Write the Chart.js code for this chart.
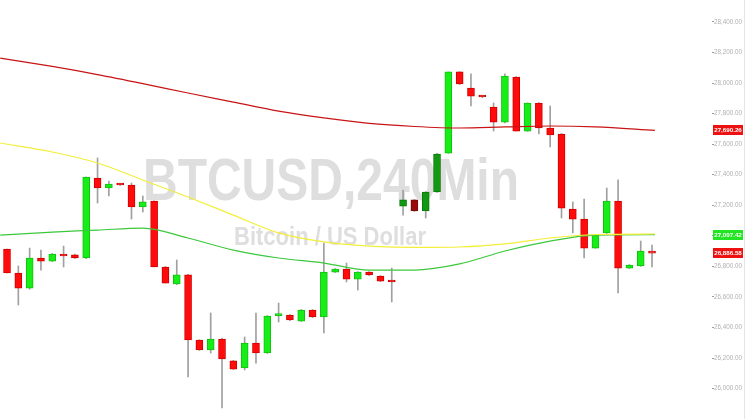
<!DOCTYPE html>
<html>
<head>
<meta charset="utf-8">
<title>BTCUSD,240Min</title>
<script src="https://cdn.jsdelivr.net/npm/chart.js@4.4.0/dist/chart.umd.min.js"></script>
<style>
  html, body { margin: 0; padding: 0; background: #fff; }
  canvas { display: block; }
</style>
</head>
<body>
<canvas id="chart" width="745" height="419"></canvas>
<script>
// ── DATA ──
const opens  = [26914, 26757, 26658, 26855, 26835, 26881, 26875, 26855, 27379, 27313, 27339, 27333, 27189, 27228, 26796, 26685, 26744, 26318, 26253, 26325,
                26181, 26135, 26298, 26233, 26478, 26482, 26442, 26514, 26469, 26763, 26783, 26717, 26763, 26737, 26711, 27195, 27235, 27163, 27287, 27542,
                28073, 27968, 27915, 27843, 27745, 28040, 27686, 27870, 27706, 27667, 27176, 27110, 26920, 27019, 27228, 26789, 26803, 26895];
const highs  = [26914, 26803, 26920, 26907, 26885, 26933, 26880, 27385, 27510, 27359, 27342, 27346, 27261, 27230, 26800, 26842, 26748, 26320, 26495, 26330,
                26185, 26338, 26495, 26478, 26560, 26485, 26518, 26518, 26953, 26786, 26822, 26766, 26766, 26740, 26789, 27300, 27238, 27290, 27540, 28073,
                28075, 28060, 27917, 27870, 28060, 28043, 27870, 27873, 27850, 27670, 27222, 27241, 27008, 27313, 27366, 26812, 26966, 26940];
const lows   = [26757, 26547, 26650, 26776, 26832, 26796, 26850, 26850, 27215, 27261, 27330, 27110, 27156, 26796, 26691, 26680, 26076, 26250, 26233, 25873,
                26125, 26122, 26167, 26230, 26436, 26445, 26440, 26465, 26364, 26760, 26698, 26645, 26740, 26700, 26567, 27136, 27160, 27117, 27285, 27540,
                27990, 27850, 27905, 27686, 27740, 27686, 27684, 27667, 27582, 27117, 27019, 26855, 26918, 27015, 26626, 26786, 26800, 26796];
const closes = [26757, 26658, 26855, 26835, 26881, 26868, 26855, 27385, 27313, 27339, 27333, 27189, 27222, 26796, 26691, 26744, 26318, 26253, 26325, 26194,
                26128, 26298, 26233, 26475, 26485, 26449, 26514, 26469, 26763, 26783, 26717, 26763, 26744, 26704, 26698, 27235, 27163, 27287, 27536, 28073,
                27994, 27915, 27909, 27745, 28046, 27686, 27870, 27706, 27660, 27182, 27110, 26920, 27005, 27228, 26789, 26809, 26901, 26886.58];

// moving averages, sampled along the candle index
const maIdx = [-0.6, 4, 8, 12, 16, 20, 24, 28, 32, 36, 40, 44, 48, 52, 57.25];
const ma200 = [28164, 28109, 28056, 27997, 27935, 27876, 27817, 27772, 27736, 27716, 27706, 27713, 27719, 27713, 27690.26];
const ma100 = [27608, 27549, 27477, 27366, 27254, 27136, 27019, 26960, 26933, 26924, 26927, 26947, 26986, 27009, 27012];
const ma50  = [27005, 27025, 27038, 27051, 26986, 26907, 26855, 26822, 26776, 26776, 26816, 26901, 26966, 27005, 27007.42];

const yTicks = [26000, 26200, 26400, 26600, 26800, 27000, 27200, 27400, 27600, 27800, 28000, 28200, 28400];

// ── COLOURS ──
const UP = '#17ee17', DOWN = '#ff0b0b';
const UP_DARK = '#129812', DOWN_DARK = '#990b0b';
const darkCandles = [35, 36, 37, 38];

const idx = opens.map((_, i) => i);
const isUp = i => closes[i] >= opens[i];
const bodyColor = idx.map(i => darkCandles.includes(i) ? (isUp(i) ? UP_DARK : DOWN_DARK) : (isUp(i) ? UP : DOWN));
const bodyBorder = idx.map(i => darkCandles.includes(i) ? (isUp(i) ? '#0b7a0b' : '#7a0808') : (isUp(i) ? '#10c010' : '#d00000'));

const fmt = v => Number(v).toLocaleString('en-US', { minimumFractionDigits: 2, maximumFractionDigits: 2 });

// ── WATERMARK ──
const watermark = {
  id: 'watermark',
  beforeDatasetsDraw(chart) {
    const ctx = chart.ctx;
    ctx.save();
    ctx.fillStyle = '#dedede';
    ctx.textAlign = 'center';
    ctx.textBaseline = 'alphabetic';
    ctx.font = 'bold 60px "Liberation Sans", Arial, sans-serif';
    ctx.translate(331, 200);
    ctx.scale(0.8, 1);
    ctx.fillText('BTCUSD,240Min', 0, 0);
    ctx.restore();

    ctx.save();
    ctx.fillStyle = '#dedede';
    ctx.textAlign = 'center';
    ctx.font = 'bold 25px "Liberation Sans", Arial, sans-serif';
    ctx.translate(330, 245);
    ctx.scale(0.88, 1);
    ctx.fillText('Bitcoin / US Dollar', 0, 0);
    ctx.restore();
  }
};

// ── PRICE TAGS ──
const tags = [
  { value: ma200.at(-1), color: '#ee1111' },
  { value: ma50.at(-1), color: '#22e622' },
  { value: closes.at(-1), color: '#ee1111' }
];
const priceTags = {
  id: 'priceTags',
  afterDraw(chart) {
    const ctx = chart.ctx, y = chart.scales.y;
    ctx.save();
    ctx.strokeStyle = '#e4e4e4';
    ctx.beginPath();
    ctx.moveTo(744.5, 0);
    ctx.lineTo(744.5, chart.height);
    ctx.stroke();
    tags.forEach(t => {
      const py = Math.round(y.getPixelForValue(t.value));
      ctx.fillStyle = t.color;
      ctx.fillRect(713, py - 5, 30, 10);
      ctx.fillStyle = '#fff';
      ctx.font = 'bold 6.2px "Liberation Sans", Arial, sans-serif';
      ctx.textAlign = 'center';
      ctx.textBaseline = 'middle';
      ctx.fillText(fmt(t.value), 728, py + 0.5);
    });
    ctx.restore();
  }
};

// ── CHART ──
new Chart(document.getElementById('chart'), {
  type: 'bar',
  data: {
    datasets: [
      {
        type: 'line', label: 'MA 200',
        data: maIdx.map((x, i) => ({ x, y: ma200[i] })),
        borderColor: '#c81414', borderWidth: 1.2, pointRadius: 0,
        cubicInterpolationMode: 'monotone', order: 1,
      },
      {
        type: 'line', label: 'MA 100',
        data: maIdx.map((x, i) => ({ x, y: ma100[i] })),
        borderColor: '#f2ee3a', borderWidth: 1.2, pointRadius: 0,
        cubicInterpolationMode: 'monotone', order: 1,
      },
      {
        type: 'line', label: 'MA 50',
        data: maIdx.map((x, i) => ({ x, y: ma50[i] })),
        borderColor: '#3cc83c', borderWidth: 1.2, pointRadius: 0,
        cubicInterpolationMode: 'monotone', order: 1,
      },
      {
        label: 'Body',
        data: idx.map(i => ({ x: i, y: [opens[i], closes[i]] })),
        backgroundColor: bodyColor, borderColor: bodyBorder,
        borderWidth: 1, borderSkipped: false,
        barThickness: 7, minBarLength: 2, grouped: false, order: 2,
      },
      {
        label: 'Wick',
        data: idx.map(i => ({ x: i, y: [lows[i], highs[i]] })),
        backgroundColor: '#a0a0a0',
        barThickness: 1, grouped: false, order: 3,
      }
    ]
  },
  options: {
    responsive: false,
    animation: false,
    layout: { padding: 0 },
    plugins: { legend: { display: false }, tooltip: { enabled: false } },
    scales: {
      x: { type: 'linear', min: -0.62, max: 62.3, offset: false, display: false },
      y: {
        position: 'right',
        min: 25801, max: 28544,
        afterBuildTicks: s => { s.ticks = yTicks.map(v => ({ value: v })); },
        afterFit: s => { s.width = 33; s.paddingTop = 0; s.paddingBottom = 0; },
        grid: { drawOnChartArea: false, tickLength: 2, color: '#9a9a9a' },
        border: { display: false },
        ticks: {
          padding: 0, color: '#b0b0b0',
          font: { size: 6.3, family: '"Liberation Sans", Arial, sans-serif' },
          callback: v => fmt(v)
        }
      }
    }
  },
  plugins: [watermark, priceTags]
});
</script>
</body>
</html>
